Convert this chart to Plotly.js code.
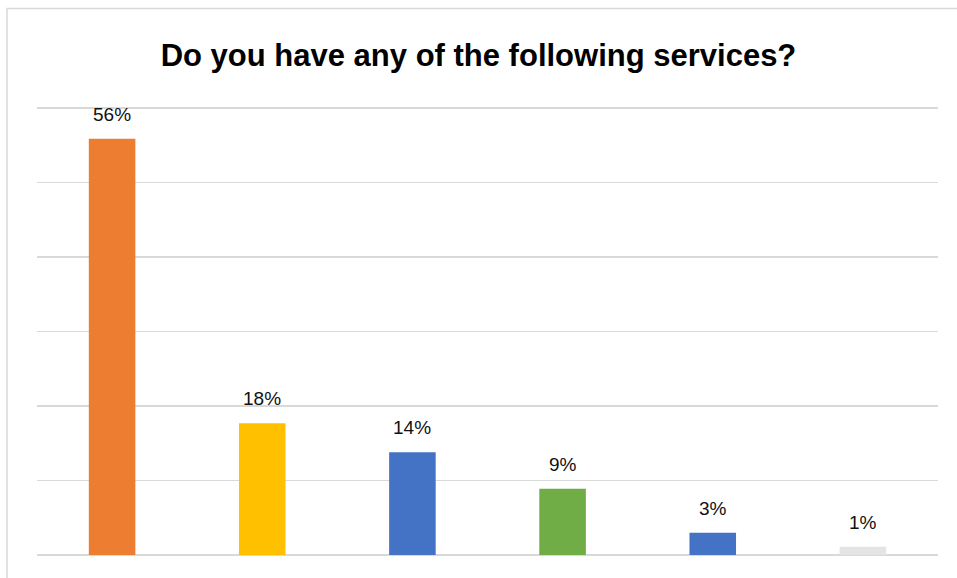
<!DOCTYPE html>
<html>
<head>
<meta charset="utf-8">
<script src="https://cdn.plot.ly/plotly-3.0.1.min.js"></script>
<style>html,body{margin:0;padding:0;background:#fff;}</style>
</head>
<body>
<div id="chart" style="width:957px;height:578px;"></div>
<script>
const categories = ["A", "B", "C", "D", "E", "F"];
const values = [55.9, 17.7, 13.8, 8.9, 3.0, 1.1];
const labels = ["56%", "18%", "14%", "9%", "3%", "1%"];
const colors = ["#ED7D31", "#FFC000", "#4472C4", "#70AD47", "#4472C4", "#E4E4E4"];
const yTicks = [0, 10, 20, 30, 40, 50, 60];

const trace = {
  type: "bar",
  x: categories,
  y: values,
  marker: {color: colors},
  width: 0.31,
  hoverinfo: "none"
};

const annotations = categories.map((c, i) => ({
  x: c, y: values[i], xref: "x", yref: "y",
  text: labels[i], showarrow: false,
  yanchor: "bottom", yshift: 12,
  font: {family: "Liberation Sans, Arial, sans-serif", size: 19, color: "#111111"}
}));

const layout = {
  width: 957, height: 578,
  margin: {l: 37, r: 19, t: 107, b: 23},
  paper_bgcolor: "#ffffff",
  plot_bgcolor: "#ffffff",
  showlegend: false,
  title: {
    text: "<b>Do you have any of the following services?</b>",
    font: {family: "Liberation Sans, Arial, sans-serif", size: 31, color: "#000000"},
    x: 0.5, xanchor: "center", y: 0.905, yanchor: "middle", yref: "container"
  },
  xaxis: {showticklabels: false, showgrid: false, zeroline: false, showline: false, ticks: ""},
  yaxis: {
    range: [0, 60.15], tickvals: yTicks, showticklabels: false,
    showgrid: true, gridcolor: "#D9D9D9", gridwidth: 1.5,
    zeroline: true, zerolinecolor: "#D9D9D9", zerolinewidth: 2.5,
    showline: false, ticks: ""
  },
  annotations: annotations,
  shapes: [{
    type: "rect", xref: "paper", yref: "paper",
    x0: -0.0333, x1: 1.03, y0: -0.06, y1: 1.2199,
    line: {color: "#D9D9D9", width: 1.5}, fillcolor: "rgba(0,0,0,0)", layer: "below"
  }],
  bargap: 0.69
};

Plotly.newPlot("chart", [trace], layout, {displayModeBar: false, staticPlot: true});
</script>
</body>
</html>
